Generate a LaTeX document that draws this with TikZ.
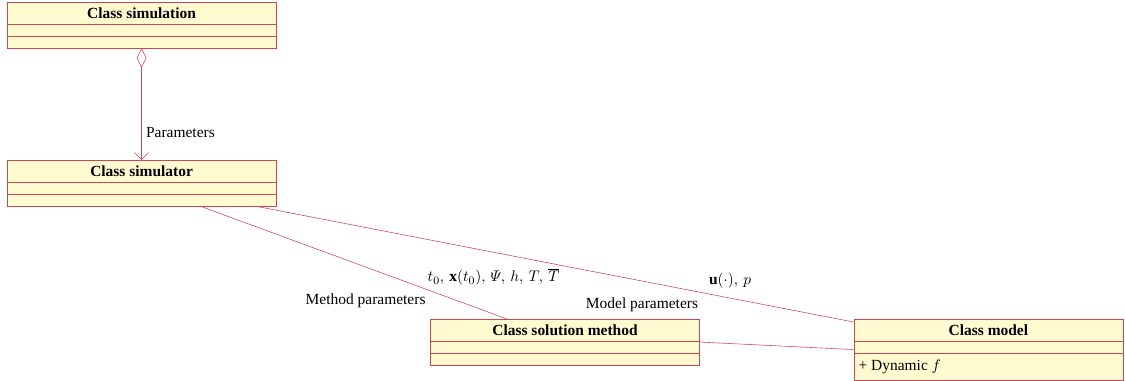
\documentclass[tikz,border=0pt]{standalone}
\usepackage{amsmath,amssymb}
\usepackage{fontspec}
\setmainfont{Liberation Serif}
\usetikzlibrary{shapes.multipart,arrows.meta}
\definecolor{umlred}{RGB}{204,70,85}
\definecolor{umlfill}{RGB}{255,250,208}
\newcommand{\xv}{\mathbf{x}}
\newcommand{\uv}{\mathbf{u}}
\newcommand{\titlestrut}{\rule[-3pt]{0pt}{12.5pt}}

\begin{document}
\begin{tikzpicture}[
    umlclass/.style={rectangle split, rectangle split parts=3, draw=umlred, fill=umlfill,
      anchor=north, minimum width=6.725cm, inner ysep=1.55pt,
      rectangle split empty part height=4.7pt, rectangle split empty part depth=0pt,
      font=\fontsize{11}{13}\selectfont},
    conn/.style={draw=umlred},
    lbl/.style={font=\fontsize{11}{13}\selectfont, inner sep=1pt}]
  \useasboundingbox (0,0) rectangle (28.125,-9.5);
  % classes
  \node[umlclass] (simulation) at (3.54,-0.05)
    {\titlestrut\textbf{Class simulation}\nodepart{second}\nodepart{third}};
  \node[umlclass] (simulator) at (3.54,-4.0)
    {\titlestrut\textbf{Class simulator}\nodepart{second}\nodepart{third}};
  \node[umlclass] (method) at (14.125,-7.975)
    {\titlestrut\textbf{Class solution method}\nodepart{second}\nodepart{third}};
  \node[umlclass, rectangle split part align={center,center,left}] (model) at (24.71,-7.975)
    {\titlestrut\textbf{Class model}\nodepart{second}\nodepart{third}\rule[-5pt]{0pt}{15.4pt}+ Dynamic $f$};
  % aggregation
  \draw[conn, {Diamond[open,length=14pt,width=7pt]}-{Straight Barb[length=5pt,width=10pt]}]
    (simulation.south) -- (simulator.north) node[lbl, pos=0.75, right=2pt] {Parameters};
  % associations
  \draw[conn] ([xshift=1.46cm]simulator.south) -- ([xshift=-1.45cm]method.north);
  \draw[conn] ([xshift=2.84cm]simulator.south) -- ([yshift=-0.075cm]model.north west);
  \draw[conn] (method.east) -- (model.west);
  % labels
  \node[lbl] (methodvars) at (12.34,-6.925) {$t_0,\, \xv(t_0),\, \varPsi,\, h,\, T,\, \overline{T}$};
  \node[lbl] (methodlbl) at (9.14,-7.525) {Method parameters};
  \node[lbl] (modellbl) at (16.05,-7.625) {Model parameters};
  \node[lbl] (modelvars) at (18.25,-7.025) {$\uv(\cdot),\, p$};
\end{tikzpicture}
\end{document}
